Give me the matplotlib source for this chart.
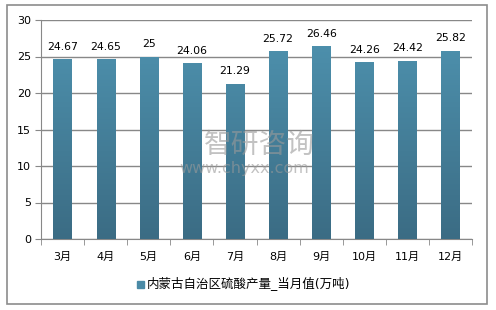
import numpy as np
import matplotlib.pyplot as plt
from matplotlib.colors import LinearSegmentedColormap
from matplotlib.patches import Rectangle

plt.rcParams['font.family'] = ['DejaVu Sans', 'Noto Sans CJK SC']

months = ['3月', '4月', '5月', '6月', '7月', '8月', '9月', '10月', '11月', '12月']
values = [24.67, 24.65, 25, 24.06, 21.29, 25.72, 26.46, 24.26, 24.42, 25.82]
labels = ['24.67', '24.65', '25', '24.06', '21.29', '25.72', '26.46', '24.26', '24.42', '25.82']
series_name = '内蒙古自治区硫酸产量_当月值(万吨)'

fig = plt.figure(figsize=(4.96, 3.10), dpi=100)
fig.patches.append(Rectangle((7 / 496, 6 / 310), 480 / 496, 299 / 310, transform=fig.transFigure,
                             fill=False, edgecolor='#8c8c8c', linewidth=1.2))
ax = fig.add_axes([41 / 496, 71 / 310, 431 / 496, 219 / 310])

x = np.arange(len(months))
bars = ax.bar(x, values, width=0.42, color='#4a8aa6', zorder=2)

# vertical gradient fill inside each bar
cmap = LinearSegmentedColormap.from_list('g', ['#3b6c84', '#4f94b1'])
grad = np.linspace(0, 1, 256).reshape(-1, 1)
for b in bars:
    bx, w = b.get_x(), b.get_width()
    im = ax.imshow(grad, cmap=cmap, origin='lower', aspect='auto',
                   extent=[bx, bx + w, 0, 30], zorder=3)
    im.set_clip_path(b)

for xi, v, s in zip(x, values, labels):
    ax.text(xi, v + 1.0, s, ha='center', va='bottom', fontsize=7.8, color='#000000', zorder=4)

ax.set_xlim(-0.5, len(months) - 0.5)
ax.set_ylim(0, 30)
ax.set_yticks([0, 5, 10, 15, 20, 25, 30])
ax.yaxis.grid(True, color='#888888', linewidth=1)
ax.set_axisbelow(True)
ax.set_xticks(x)
ax.set_xticklabels(months, fontsize=8)
ax.set_xticks(np.arange(-0.5, len(months), 1), minor=True)
ax.tick_params(axis='x', which='major', length=0, pad=9)
ax.tick_params(axis='x', which='minor', length=4, color='#888888', direction='out')
ax.tick_params(axis='y', length=4, color='#888888', labelsize=8, pad=3)
for sp in ['top', 'right']:
    ax.spines[sp].set_visible(False)
for sp in ['left', 'bottom']:
    ax.spines[sp].set_color('#888888')

# legend
fig.patches.append(Rectangle((137 / 496, 22 / 310), 7 / 496, 7 / 310,
                             transform=fig.transFigure, color='#4a8aa6'))
fig.text(147 / 496, 26 / 310, series_name, fontsize=9, va='center', ha='left')

# watermark
fig.text(204 / 496, 165 / 310, '智研咨询', fontsize=20, color='#9a9a9a', alpha=0.6,
         ha='left', va='center', family=['Noto Sans CJK SC'], zorder=5)
fig.text(179 / 496, 142 / 310, 'www.chyxx.com', fontsize=11.5, color='#9a9a9a', alpha=0.6,
         ha='left', va='center', zorder=5)

fig.savefig('out.png', dpi=100)
